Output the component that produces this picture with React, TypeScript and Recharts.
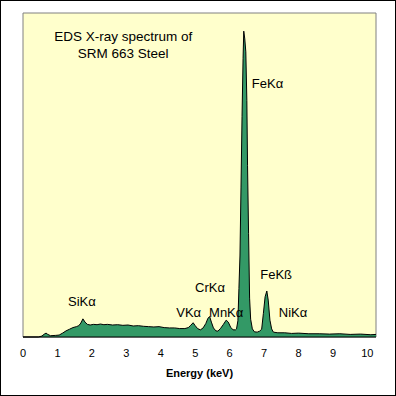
import React from 'react';
import { AreaChart, Area, XAxis, YAxis, ReferenceArea, ReferenceDot } from 'recharts';

// energy (keV) and relative counts
const energy = [
  0, 0.45, 0.55, 0.62, 0.67, 0.72, 0.8, 0.95, 1.05, 1.15, 1.25, 1.35, 1.45, 1.55, 1.62, 1.68,
  1.74, 1.8, 1.87, 1.95, 2.05, 2.15, 2.25, 2.35, 2.45, 2.6, 2.75, 2.9, 3.05, 3.2, 3.35, 3.5,
  3.65, 3.8, 3.95, 4.1, 4.25, 4.4, 4.55, 4.7, 4.8, 4.87, 4.94, 5.0, 5.07, 5.15, 5.23, 5.31,
  5.37, 5.42, 5.47, 5.53, 5.6, 5.66, 5.74, 5.82, 5.9, 5.96, 6.03, 6.1, 6.17, 6.2, 6.24, 6.27,
  6.3, 6.33, 6.36, 6.39, 6.41, 6.44, 6.47, 6.5, 6.52, 6.55, 6.58, 6.61, 6.66, 6.72, 6.8, 6.87,
  6.93, 6.98, 7.03, 7.08, 7.12, 7.17, 7.22, 7.27, 7.4, 7.6, 7.8, 8.0, 8.3, 8.6, 8.9, 9.2,
  9.5, 9.8, 10.1, 10.25,
];
const counts = [
  0, 0, 0.3, 0.9, 1.2, 0.8, 0.4, 0.5, 0.6, 1.2, 1.9, 2.4, 2.9, 3.2, 3.5, 4.3,
  5.6, 4.6, 3.9, 3.7, 3.9, 3.8, 4.0, 3.8, 3.9, 3.7, 3.8, 3.6, 3.7, 3.4, 3.5, 3.3,
  3.2, 3.1, 3.2, 2.9, 2.8, 2.8, 2.6, 2.6, 2.9, 3.6, 4.4, 3.5, 2.6, 2.2, 2.8, 4.2,
  5.8, 6.3, 4.6, 2.8, 1.9, 1.8, 2.7, 3.9, 5.2, 4.6, 3.0, 2.2, 2.2, 2.5, 5, 15,
  25, 46, 68, 86, 94.4, 92, 88, 73, 53, 32, 12, 5.5, 2.5, 1.6, 1.5, 1.8,
  2.4, 7.3, 12.4, 14.2, 11.4, 5.2, 2.5, 1.5, 1.3, 1.3, 1.1, 1.2, 1.0, 1.0, 0.9, 1.0,
  0.8, 0.9, 0.7, 0.8,
];

const xTicks = [0, 1, 2, 3, 4, 5, 6, 7, 8, 9, 10];

const peakLabels = ['FeKα', 'FeKß', 'CrKα', 'SiKα', 'VKα', 'MnKα', 'NiKα'];
const peakLabelX = [7.1, 7.35, 5.43, 1.71, 4.81, 5.9, 7.84];
const peakLabelY = [78.1, 19.4, 15.4, 11.1, 7.7, 7.7, 7.7];

const titleLines = ['EDS X-ray spectrum of', 'SRM 663 Steel'];
const titleX = [2.91, 2.91];
const titleY = [92.9, 87.6];

const data = energy.map((e, i) => ({ energy: e, counts: counts[i] }));

const font = 'Arial, "Liberation Sans", sans-serif';

const TextMark = (text: string, size: number) => (props: any) => (
  <text
    x={props.cx}
    y={props.cy}
    textAnchor="middle"
    dominantBaseline="central"
    fontFamily={font}
    fontSize={size}
    fill="#000"
  >
    {text}
  </text>
);

export default function App() {
  return (
    <div
      style={{
        position: 'absolute',
        left: 0,
        top: 0,
        width: 396,
        height: 396,
        background: '#fff',
        border: '1px solid #000',
        boxSizing: 'border-box',
      }}
    >
      <div style={{ position: 'absolute', left: -1, top: -1 }}>
        <AreaChart
          width={396}
          height={396}
          data={data}
          margin={{ top: 13, right: 20, left: 23, bottom: 0 }}
        >
          <XAxis
            dataKey="energy"
            type="number"
            domain={[0, 10.25]}
            ticks={xTicks}
            allowDataOverflow
            height={59}
            tickLine={false}
            tickSize={6}
            tickMargin={6}
            axisLine={{ stroke: '#000' }}
            tick={{ fill: '#000', fontSize: 11, fontFamily: font }}
            label={{
              value: 'Energy (keV)',
              position: 'insideBottom',
              offset: 19,
              fill: '#000',
              fontSize: 11,
              fontWeight: 'bold',
              fontFamily: font,
            }}
          />
          <YAxis hide domain={[0, 100]} />
          <ReferenceArea
            x1={0}
            x2={10.25}
            y1={0}
            y2={100}
            fill="#FFFFCC"
            fillOpacity={1}
            stroke="#808080"
          />
          <Area
            type="linear"
            dataKey="counts"
            stroke="#000"
            strokeWidth={1}
            fill="#339966"
            fillOpacity={1}
            isAnimationActive={false}
          />
          {titleLines.map((t, i) => (
            <ReferenceDot key={t} x={titleX[i]} y={titleY[i]} r={0} shape={TextMark(t, 13.5)} />
          ))}
          {peakLabels.map((t, i) => (
            <ReferenceDot key={t} x={peakLabelX[i]} y={peakLabelY[i]} r={0} shape={TextMark(t, 13)} />
          ))}
        </AreaChart>
      </div>
    </div>
  );
}
